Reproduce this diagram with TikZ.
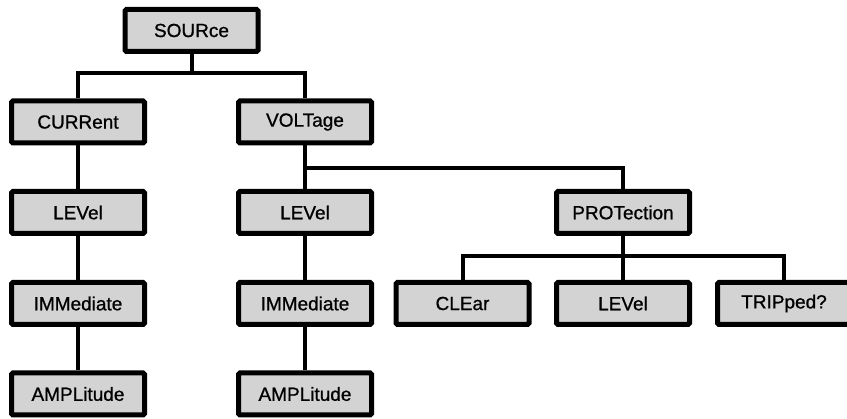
\documentclass[tikz,border=0pt]{standalone}
\usepackage{fontspec}
\setmainfont{Liberation Sans}
\newfontfamily\boxfont[FakeBold=0.9]{Liberation Sans}
\definecolor{boxfill}{RGB}{211,211,211}
\begin{document}
\begin{tikzpicture}[x=1pt,y=1pt,
  cmd/.style={draw=black, fill=boxfill, line width=5pt, rounded corners=1.5pt,
    minimum width=133pt, minimum height=42pt, inner sep=0pt,
    font=\boxfont\fontsize{19}{22}\selectfont},
  conn/.style={draw=black, line width=4pt, line join=miter}]
\clip (0,0) rectangle (847,-419);
\fill[white] (0,0) rectangle (847,-419);
% nodes
\node[cmd] (src) at (191.5,-30.5) {SOURce};
\node[cmd] (cur) at (78,-122) {CURRent};
\node[cmd] (vol) at (305,-122) {VOLTage};
\node[cmd] (lv1) at (78,-212.5) {LEVel};
\node[cmd] (im1) at (78,-303.5) {IMMediate};
\node[cmd] (am1) at (78,-394) {AMPLitude};
\node[cmd] (lv2) at (305,-212.5) {LEVel};
\node[cmd] (im2) at (305,-303.5) {IMMediate};
\node[cmd] (am2) at (305,-394) {AMPLitude};
\node[cmd] (prot) at (623,-212.5) {PROTection};
\node[cmd] (clr) at (462.5,-303.5) {CLEar};
\node[cmd] (lv3) at (623,-303.5) {LEVel};
\node[cmd] (trip) at (784,-303.5) {TRIPped?};
% junctions
\coordinate (j1) at (191.5,-73);
\coordinate (j2) at (305,-168);
\coordinate (j3) at (623,-256);
% connectors
\draw[conn] (src.south) -- (j1);
\draw[conn] (cur.north) |- (j1) -| (vol.north);
\draw[conn] (cur.south) -- (lv1.north);
\draw[conn] (lv1.south) -- (im1.north);
\draw[conn] (im1.south) -- (am1.north);
\draw[conn] (vol.south) -- (lv2.north);
\draw[conn] (lv2.south) -- (im2.north);
\draw[conn] (im2.south) -- (am2.north);
\draw[conn] (j2) -| (prot.north);
\draw[conn] (prot.south) -- (lv3.north);
\draw[conn] (clr.north) |- (j3) -| (trip.north);
\end{tikzpicture}
\end{document}
